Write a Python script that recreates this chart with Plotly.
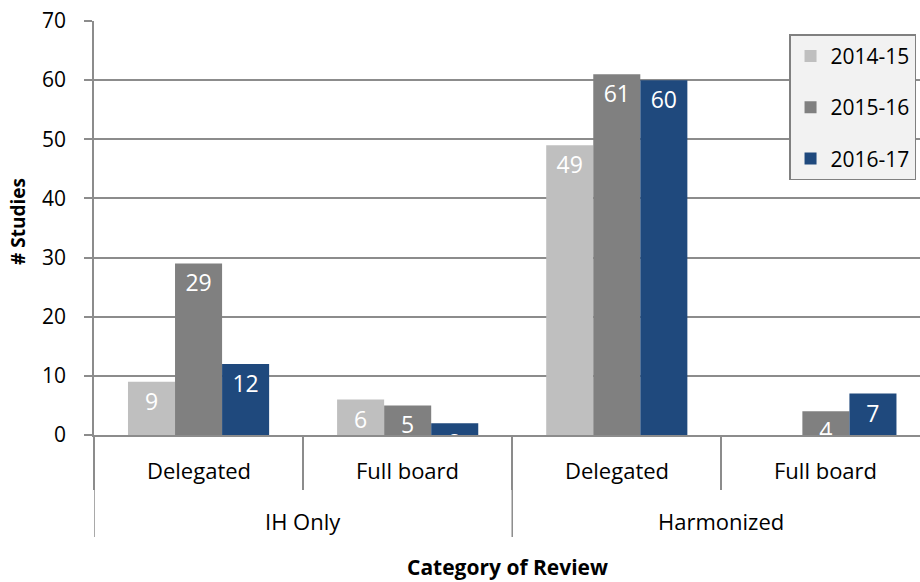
import plotly.graph_objects as go

groups = ["IH Only", "Harmonized"]
subcats = ["Delegated", "Full board", "Delegated", "Full board"]
cat_keys = ["IH Only|Delegated", "IH Only|Full board", "Harmonized|Delegated", "Harmonized|Full board"]
series_names = ["2014-15", "2015-16", "2016-17"]
v_2014_15 = [9, 6, 49, 0]
v_2015_16 = [29, 5, 61, 4]
v_2016_17 = [12, 2, 60, 7]
colors = ["#BFBFBF", "#808080", "#1F497D"]
y_ticks = [0, 10, 20, 30, 40, 50, 60, 70]

FONT = "Open Sans"
GRID = "#8C8C8C"

fig = go.Figure()
for name, vals, c in zip(series_names, [v_2014_15, v_2015_16, v_2016_17], colors):
    fig.add_trace(go.Bar(
        x=cat_keys, y=vals, name=name, legendgroup=name,
        marker=dict(color=c, line=dict(width=0)),
        text=[str(v) if v else "" for v in vals], textposition="inside",
        insidetextanchor="end", constraintext="none", textangle=0,
        textfont=dict(color="white", size=23, family=FONT),
    ))

annotations = []
for i, s in enumerate(subcats):
    annotations.append(dict(x=i, y=-0.0845, xref="x", yref="paper", text=s, showarrow=False,
                            yanchor="middle", font=dict(size=22, family=FONT, color="black")))
for gi, g in enumerate(groups):
    annotations.append(dict(x=gi * 2 + 0.5, y=-0.2077, xref="x", yref="paper", text=g, showarrow=False,
                            yanchor="middle", font=dict(size=22, family=FONT, color="black")))
annotations.append(dict(x=0.5, y=-0.318, xref="paper", yref="paper", text="<b>Category of Review</b>",
                        showarrow=False, yanchor="middle", font=dict(size=21, family=FONT, color="black")))
annotations.append(dict(x=-0.092, y=0.5145, xref="paper", yref="paper", text="<b># Studies</b>",
                        textangle=-90, showarrow=False, xanchor="center", yanchor="middle",
                        font=dict(size=19, family=FONT, color="black")))

shapes = []
for xb in [-0.5, 1.5]:
    shapes.append(dict(type="line", xref="x", yref="paper", x0=xb, x1=xb, y0=0, y1=-0.2464,
                       line=dict(color=GRID, width=1.5)))

fig.update_layout(
    width=920, height=582, barmode="group", bargap=0.325, bargroupgap=0,
    plot_bgcolor="white", paper_bgcolor="white",
    margin=dict(l=94, r=0, t=21, b=147, autoexpand=False),
    font=dict(family=FONT, size=21, color="black"),
    showlegend=True,
    legend=dict(x=0.9952, y=0.968, xanchor="right", yanchor="top",
                bgcolor="#F2F2F2", bordercolor="#808080", borderwidth=1.5,
                font=dict(size=21, family=FONT), tracegroupgap=21, itemwidth=30,
                traceorder="grouped"),
    yaxis=dict(range=[0, 70], tickvals=y_ticks, showgrid=True, gridcolor=GRID, gridwidth=1.5,
               showline=True, linecolor=GRID, linewidth=1.5, ticks="outside", ticklen=8,
               tickcolor=GRID, tickwidth=1.5, zeroline=False, automargin=False,
               ticklabelstandoff=14, tickfont=dict(size=21)),
    xaxis=dict(type="category", categoryorder="array", categoryarray=cat_keys,
               range=[-0.5, 3.45], showline=True, linecolor=GRID, linewidth=1.5,
               showticklabels=False, ticks="outside", tickson="boundaries", ticklen=53,
               tickcolor=GRID, tickwidth=1.5, automargin=False, showgrid=False),
    annotations=annotations, shapes=shapes,
)
fig.write_html("out.html", config={"displayModeBar": False},
               post_script="document.body.style.margin='0';document.body.style.overflow='hidden';")
